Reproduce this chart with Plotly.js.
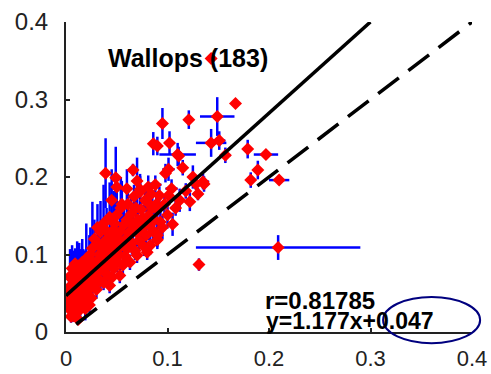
<!DOCTYPE html>
<html>
<head>
<meta charset="utf-8">
<script src="https://cdn.plot.ly/plotly-3.0.1.min.js"></script>
<style>html,body{margin:0;padding:0;background:#fff;}#chart{width:491px;height:374px;}</style>
</head>
<body>
<div id="chart"></div>
<script>
// Sparse / outlying points
const xSparse = [0.143,0.167,0.121,0.149,0.095,0.086,0.090,0.102,0.143,0.151,0.157,0.110,0.101,0.098,0.115,0.179,0.197,0.189,0.182,0.210,0.135,0.128,0.209,0.131,0.105,0.101,0.090,0.130,0.039,0.049,0.066,0.050,0.073,0.081,0.136,0.111,0.112,0.118,0.122,0.125,0.070,0.060,0.045];
const ySparse = [0.353,0.295,0.274,0.278,0.269,0.243,0.240,0.244,0.244,0.247,0.228,0.229,0.210,0.205,0.212,0.236,0.229,0.209,0.196,0.196,0.194,0.191,0.109,0.087,0.139,0.176,0.119,0.178,0.205,0.199,0.209,0.187,0.184,0.187,0.191,0.227,0.170,0.182,0.168,0.200,0.195,0.185,0.170];
const exSparse = [0.003,0.004,0.004,0.017,0.004,0.004,0.003,0.005,0.015,0.006,0.005,0.018,0.006,0.004,0.004,0.004,0.012,0.004,0.004,0.010,0.006,0.005,0.081,0.003,0.005,0.004,0.004,0.005,0.003,0.003,0.004,0.003,0.004,0.004,0.005,0.004,0.004,0.005,0.004,0.005,0.004,0.003,0.003];
const eySparse = [0.005,0.005,0.012,0.025,0.020,0.015,0.012,0.015,0.018,0.012,0.010,0.015,0.015,0.012,0.010,0.012,0.006,0.012,0.010,0.006,0.010,0.008,0.016,0.008,0.015,0.010,0.012,0.008,0.045,0.040,0.008,0.015,0.020,0.015,0.010,0.012,0.015,0.010,0.012,0.015,0.030,0.025,0.040];

// Low cluster
const xLow = [0.003,0.004,0.005,0.005,0.006,0.006,0.007,0.007,0.008,0.008,0.009,0.009,0.010,0.010,0.011,0.011,0.012,0.012,0.013,0.013,0.014,0.014,0.015,0.015,0.016,0.016,0.017,0.017,0.018,0.018,0.019,0.019,0.020,0.020,0.021,0.021,0.022,0.022,0.023,0.023,0.024,0.024,0.025,0.025,0.004,0.003,0.006,0.009,0.002,0.012];
const yLow = [0.030,0.045,0.060,0.020,0.068,0.038,0.021,0.052,0.075,0.033,0.044,0.062,0.025,0.056,0.077,0.040,0.030,0.066,0.050,0.085,0.029,0.072,0.042,0.058,0.036,0.090,0.051,0.067,0.045,0.080,0.030,0.060,0.054,0.095,0.040,0.070,0.062,0.048,0.085,0.035,0.075,0.100,0.058,0.044,0.072,0.055,0.082,0.088,0.040,0.016];
const exLow = [0.002,0.002,0.003,0.002,0.003,0.002,0.002,0.003,0.003,0.002,0.002,0.003,0.002,0.003,0.004,0.002,0.002,0.003,0.003,0.004,0.002,0.003,0.003,0.003,0.002,0.004,0.003,0.003,0.002,0.004,0.002,0.003,0.003,0.004,0.002,0.003,0.003,0.002,0.004,0.002,0.003,0.004,0.003,0.002,0.003,0.002,0.003,0.003,0.002,0.002];
const eyLow = [0.010,0.015,0.020,0.008,0.025,0.012,0.008,0.018,0.030,0.010,0.015,0.020,0.008,0.035,0.040,0.012,0.010,0.025,0.015,0.030,0.010,0.035,0.012,0.020,0.010,0.030,0.015,0.040,0.012,0.025,0.010,0.045,0.018,0.045,0.012,0.030,0.020,0.015,0.040,0.010,0.025,0.035,0.020,0.012,0.035,0.015,0.030,0.020,0.010,0.006];

// Middle cluster
const xMid = [0.026,0.027,0.027,0.028,0.029,0.030,0.030,0.031,0.032,0.033,0.034,0.034,0.035,0.036,0.037,0.037,0.038,0.039,0.040,0.040,0.041,0.042,0.043,0.044,0.045,0.045,0.046,0.047,0.048,0.049,0.050,0.050,0.051,0.052,0.053,0.053,0.054,0.055,0.056,0.057,0.058,0.059,0.060,0.060,0.028,0.032,0.036,0.043,0.047,0.055];
const yMid = [0.108,0.070,0.090,0.120,0.062,0.055,0.090,0.135,0.078,0.100,0.129,0.066,0.112,0.085,0.064,0.140,0.095,0.118,0.075,0.130,0.105,0.088,0.148,0.116,0.070,0.098,0.125,0.082,0.140,0.108,0.151,0.092,0.120,0.100,0.073,0.129,0.160,0.112,0.086,0.138,0.098,0.120,0.107,0.145,0.082,0.112,0.100,0.060,0.132,0.165];
const exMid = [0.003,0.002,0.003,0.004,0.002,0.003,0.003,0.004,0.002,0.003,0.004,0.003,0.003,0.002,0.003,0.004,0.003,0.004,0.002,0.005,0.003,0.003,0.004,0.003,0.002,0.004,0.003,0.003,0.005,0.003,0.004,0.003,0.004,0.003,0.002,0.005,0.004,0.003,0.003,0.005,0.004,0.003,0.004,0.006,0.003,0.003,0.002,0.003,0.004,0.004];
const eyMid = [0.060,0.012,0.020,0.025,0.010,0.012,0.030,0.030,0.015,0.020,0.040,0.010,0.018,0.015,0.010,0.050,0.020,0.025,0.012,0.030,0.018,0.015,0.045,0.020,0.010,0.015,0.025,0.012,0.030,0.018,0.035,0.015,0.020,0.012,0.010,0.025,0.040,0.015,0.012,0.020,0.015,0.020,0.018,0.025,0.012,0.020,0.015,0.010,0.050,0.030];

// Upper-middle cluster
const xUp = [0.061,0.062,0.063,0.064,0.065,0.066,0.067,0.068,0.069,0.070,0.070,0.071,0.072,0.073,0.074,0.075,0.076,0.077,0.078,0.079,0.080,0.080,0.081,0.082,0.083,0.084,0.085,0.086,0.087,0.088,0.089,0.090,0.090,0.092,0.093,0.095,0.097,0.100,0.104,0.108];
const yUp = [0.165,0.128,0.090,0.152,0.115,0.138,0.175,0.105,0.160,0.099,0.128,0.145,0.118,0.181,0.158,0.135,0.146,0.110,0.170,0.125,0.168,0.103,0.150,0.138,0.112,0.178,0.160,0.130,0.145,0.190,0.165,0.158,0.125,0.176,0.142,0.135,0.165,0.151,0.185,0.160];
const exUp = [0.004,0.003,0.003,0.005,0.004,0.003,0.005,0.003,0.004,0.003,0.004,0.005,0.003,0.004,0.006,0.004,0.005,0.003,0.004,0.005,0.004,0.003,0.006,0.004,0.003,0.005,0.004,0.004,0.005,0.006,0.004,0.005,0.004,0.005,0.004,0.006,0.005,0.004,0.006,0.005];
const eyUp = [0.020,0.015,0.010,0.025,0.015,0.020,0.015,0.012,0.020,0.010,0.018,0.015,0.012,0.020,0.015,0.025,0.018,0.012,0.015,0.020,0.015,0.010,0.018,0.020,0.012,0.015,0.020,0.015,0.018,0.012,0.015,0.020,0.015,0.012,0.020,0.015,0.012,0.015,0.012,0.010];

// Fit and reference lines
const fitSlope = 1.177, fitIntercept = 0.047;
const fitX = [0, (0.4 - fitIntercept) / fitSlope];
const oneToOneX = [0.01, 0.4];

const tickVals = [0, 0.1, 0.2, 0.3, 0.4];
const tickLabels = ["0", "0.1", "0.2", "0.3", "0.4"];

const titleText = "Wallops (183)";
const rText = "r=0.81785";
const eqText = "y=1.177x+0.047";

const xs = xSparse.concat(xLow, xMid, xUp);
const ys = ySparse.concat(yLow, yMid, yUp);
const exs = exSparse.concat(exLow, exMid, exUp);
const eys = eySparse.concat(eyLow, eyMid, eyUp);

const traces = [
  {
    type: 'scatter', mode: 'markers', x: xs, y: ys,
    marker: {symbol: 'diamond', size: 10, color: '#ff0000', line: {width: 0}},
    error_x: {type: 'data', array: exs, visible: true, color: '#0000ff', thickness: 2.5, width: 0},
    error_y: {type: 'data', array: eys, visible: true, color: '#0000ff', thickness: 2.5, width: 0},
    hoverinfo: 'none'
  },
  {
    type: 'scatter', mode: 'lines', x: fitX, y: fitX.map(v => fitSlope * v + fitIntercept),
    line: {color: '#000', width: 3.5}
  },
  {
    type: 'scatter', mode: 'lines', x: oneToOneX, y: oneToOneX,
    line: {color: '#000', width: 3.5, dash: '26px,12px'}
  }
];

const fontFam = 'Arial, "Liberation Sans", sans-serif';
const axisCommon = {
  range: [0, 0.4], tickvals: tickVals, ticktext: tickLabels,
  showgrid: false, zeroline: false, showline: true, linecolor: '#222', linewidth: 2,
  ticks: 'inside', ticklen: 4, tickwidth: 2, tickcolor: '#222'
};

const layout = {
  width: 491, height: 374,
  margin: {l: 66, r: 19, t: 22, b: 42},
  paper_bgcolor: '#fff', plot_bgcolor: '#fff',
  showlegend: false,
  xaxis: Object.assign({}, axisCommon, {ticklabelstandoff: 6, tickfont: {family: fontFam, size: 22, color: '#222'}}),
  yaxis: Object.assign({}, axisCommon, {ticklabelstandoff: 11, tickfont: {family: fontFam, size: 24, color: '#222'}}),
  annotations: [
    {xref: 'paper', yref: 'paper', x: 0.300, y: 0.884, xanchor: 'center', yanchor: 'middle', showarrow: false,
     text: titleText, font: {family: fontFam, size: 25, color: '#000', weight: 'bold'}},
    {xref: 'paper', yref: 'paper', x: 0.485, y: 0.103, xanchor: 'left', yanchor: 'middle', showarrow: false,
     text: rText, font: {family: fontFam, size: 24, color: '#000', weight: 'bold'}},
    {xref: 'paper', yref: 'paper', x: 0.488, y: 0.036, xanchor: 'left', yanchor: 'middle', showarrow: false,
     text: eqText, font: {family: fontFam, size: 23, color: '#000', weight: 'bold'}}
  ],
  shapes: [
    {type: 'circle', xref: 'paper', yref: 'paper', x0: 0.781, x1: 1.020, y0: -0.036, y1: 0.113,
     line: {color: '#00007f', width: 2}, fillcolor: 'rgba(0,0,0,0)'}
  ]
};

Plotly.newPlot('chart', traces, layout, {staticPlot: true, displayModeBar: false});
</script>
</body>
</html>
